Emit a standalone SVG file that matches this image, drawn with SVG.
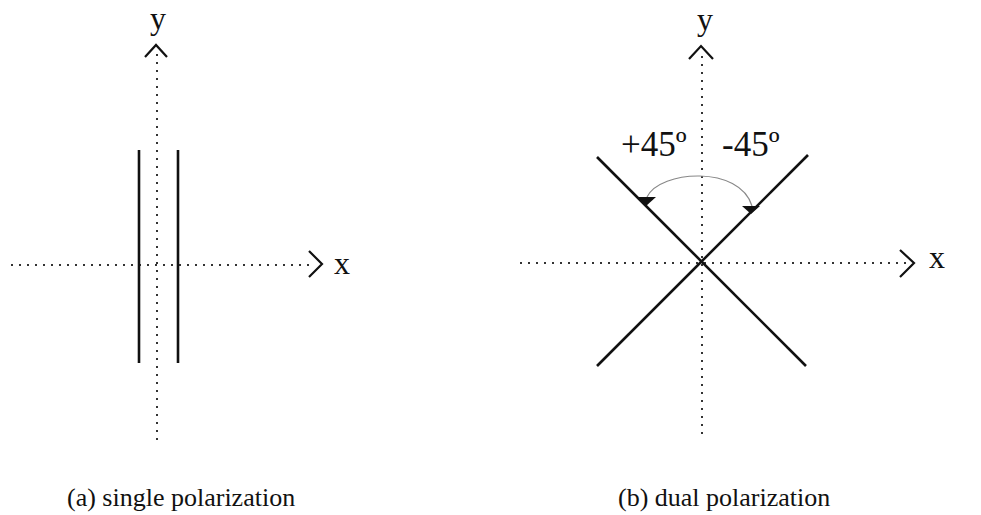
<svg xmlns="http://www.w3.org/2000/svg" width="981" height="515" viewBox="0 0 981 515">
<style>
.axis{stroke:#333;stroke-width:2;stroke-dasharray:2 6;fill:none}
.head{stroke:#111;stroke-width:2.2;fill:none}
.el{stroke:#111;stroke-width:2.6;fill:none}
.lbl{font-family:"Liberation Serif",serif;font-size:32px;fill:#111}
.cap{font-family:"Liberation Serif",serif;font-size:26px;fill:#111}
.ang{font-family:"Liberation Serif",serif;font-size:35px;fill:#111}
</style>
<rect width="981" height="515" fill="#fff"/>
<g id="connectors">
  <line class="axis" x1="11" y1="265" x2="312" y2="265"/>
  <line class="axis" x1="157" y1="54" x2="157" y2="442"/>
  <path class="head" d="M309 251 L322 264 L309 277"/>
  <path class="head" d="M145 57 L156 45 L167 57"/>
  <line class="axis" x1="520" y1="263" x2="906" y2="263"/>
  <line class="axis" x1="702" y1="56" x2="702" y2="440"/>
  <path class="head" d="M900 250 L914 263 L900 277"/>
  <path class="head" d="M689 59 L701 46 L713 59"/>
  <path d="M647 197 C660 170 740 165 752 206" stroke="#888" stroke-width="1.2" fill="none"/>
  <polygon points="637,197 656,197 646,206" fill="#111"/>
  <polygon points="742,206 760,206 751,214" fill="#111"/>
</g>
<g id="single">
  <line class="el" x1="139" y1="150" x2="139" y2="363"/>
  <line class="el" x1="178" y1="150" x2="178" y2="363"/>
</g>
<g id="dual">
  <line class="el" x1="597" y1="157" x2="806" y2="366"/>
  <line class="el" x1="808" y1="155" x2="597" y2="366"/>
</g>
<g id="labels">
  <text class="lbl" x="150" y="29">y</text>
  <text class="lbl" x="334" y="274">x</text>
  <text class="lbl" x="697" y="30">y</text>
  <text class="lbl" x="929" y="268">x</text>
  <text class="ang" x="621" y="156">+45º</text>
  <text class="ang" x="722" y="156">-45º</text>
  <text class="cap" x="67" y="506">(a) single polarization</text>
  <text class="cap" x="618" y="506">(b) dual polarization</text>
</g>
</svg>
